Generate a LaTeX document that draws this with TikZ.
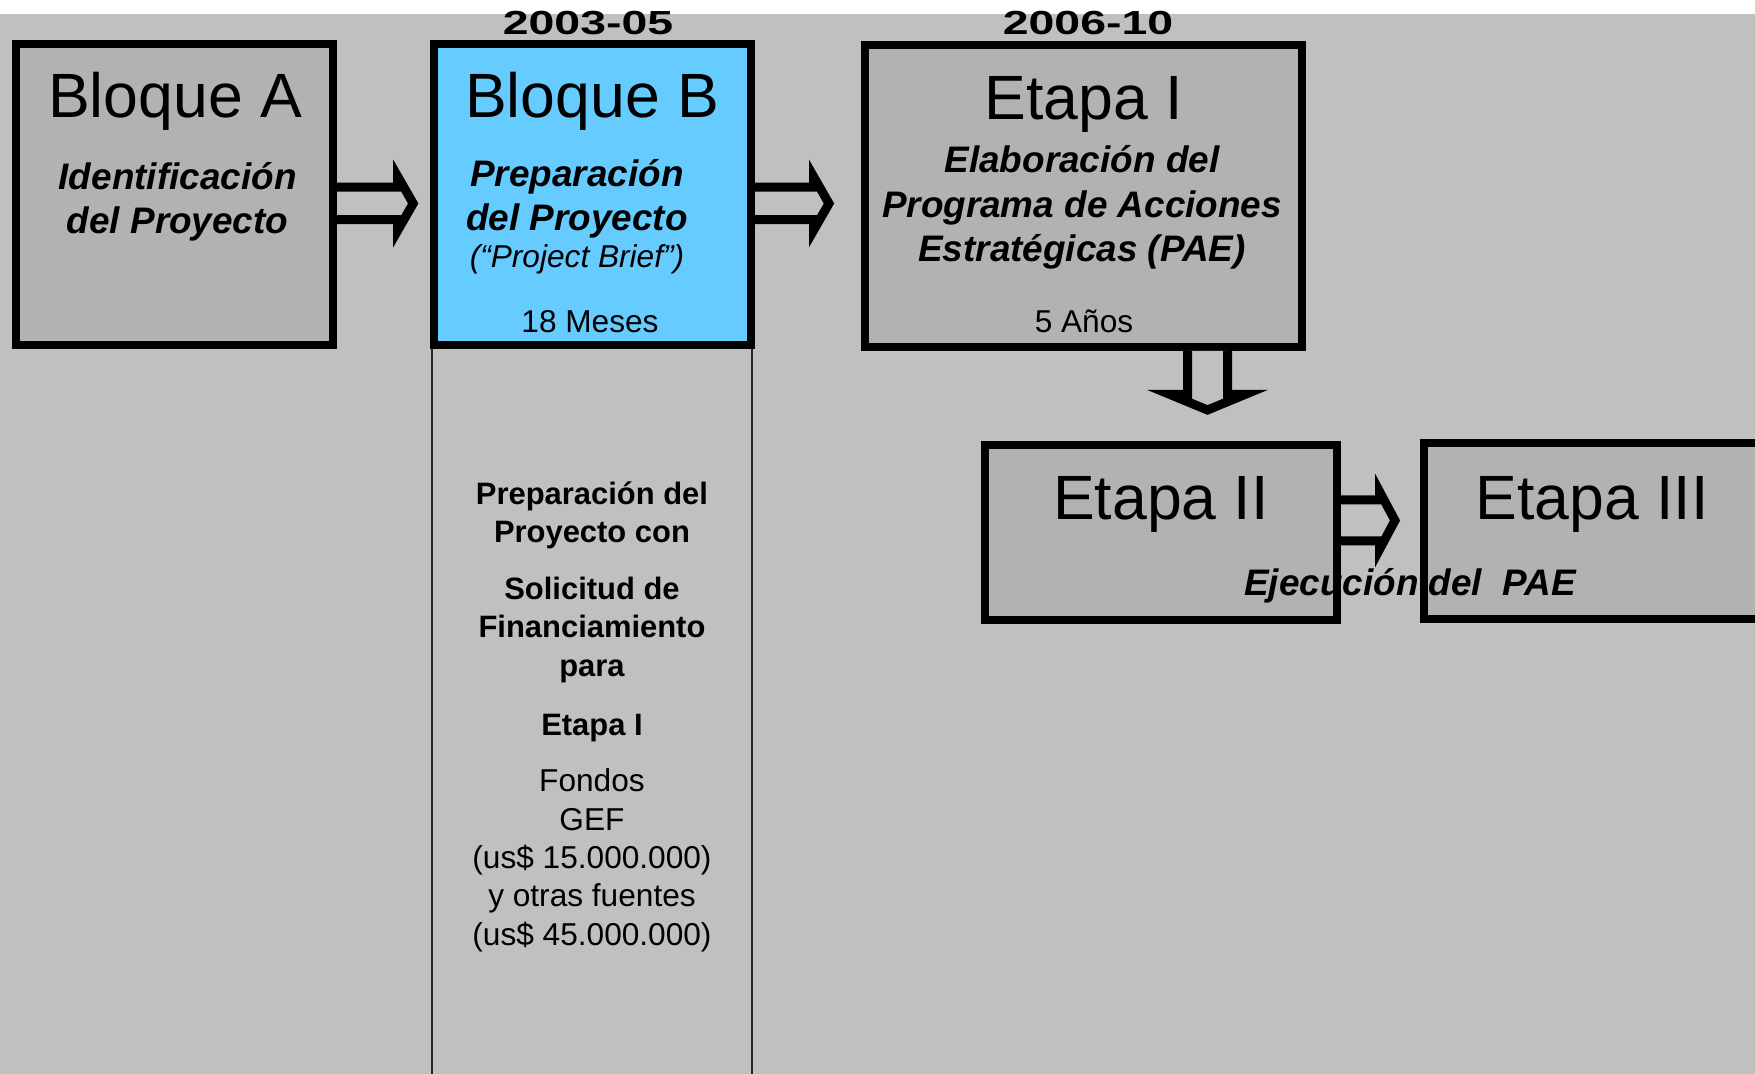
\documentclass[tikz,border=0pt]{standalone}
\usepackage{fontspec}
\usepackage{graphicx}
\setmainfont{Liberation Sans}
\usetikzlibrary{calc}
\definecolor{fondo}{HTML}{C0C0C0}
\definecolor{caja}{HTML}{B2B2B2}
\definecolor{celeste}{HTML}{66CCFF}
\tikzset{
  bloque/.style={draw=black, line width=2.28pt, fill=caja, rectangle, inner sep=0pt},
  grande/.style={font=\fontsize{17.8}{21}\selectfont, anchor=base, inner sep=0pt},
  sub/.style={font=\fontsize{10.5}{12.7}\selectfont\bfseries\itshape, align=center, anchor=base, inner sep=0pt},
  dur/.style={font=\fontsize{9}{11}\selectfont, anchor=base, inner sep=0pt},
  anio/.style={font=\fontsize{9.5}{11}\selectfont\bfseries, anchor=base, inner sep=0pt},
  lado/.style={font=\fontsize{9}{10.93}\selectfont, align=center, anchor=base, inner sep=0pt},
  ladob/.style={lado, font=\fontsize{8.8}{10.93}\selectfont\bfseries},
  guia/.style={draw=black!85, line width=0.4pt},
  flechah/.style 2 args={draw=black, line width=2.56pt, fill=fondo, line join=miter,
    to path={let \p1=(\tikztostart), \p2=(\tikztotarget) in
      ($(\p1)+(0,-#1)$) -- ($(\x2,\y1)+(-15.5,-#1)$) -- ($(\x2,\y1)+(-15.5,-#2)$) -- (\x2,\y1)
      -- ($(\x2,\y1)+(-15.5,#2)$) -- ($(\x2,\y1)+(-15.5,#1)$) -- ($(\p1)+(0,#1)$)}},
  flechav/.style 2 args={draw=black, line width=2.56pt, fill=fondo, line join=miter,
    to path={let \p1=(\tikztostart), \p2=(\tikztotarget) in
      ($(\p1)+(-#1,0)$) -- ($(\x1,\y2)+(-#1,-15.5)$) -- ($(\x1,\y2)+(-#2,-15.5)$) -- (\x1,\y2)
      -- ($(\x1,\y2)+(#2,-15.5)$) -- ($(\x1,\y2)+(#1,-15.5)$) -- ($(\p1)+(#1,0)$)}}
}
\begin{document}
\begin{tikzpicture}[x=0.1mm, y=-0.1mm]
  \useasboundingbox (0,0) rectangle (1755,1074);
  \clip (0,0) rectangle (1755,1074);
  \fill[fondo] (0,0) rectangle (1755,1074);
  \fill[white] (0,0) rectangle (1755,14);

  \node[bloque, minimum width=31.7mm, minimum height=30.1mm] (bA) at (174.5,194.5) {};
  \node[bloque, fill=celeste, minimum width=31.7mm, minimum height=30.1mm] (bB) at (592.7,194.5) {};
  \node[bloque, minimum width=43.7mm, minimum height=30.2mm] (etI) at (1083.5,196) {};
  \node[bloque, minimum width=35.2mm, minimum height=17.5mm] (etII) at (1161,532.5) {};
  \node[bloque, minimum width=33.8mm, minimum height=17.6mm] (etIII) at (1593,531.5) {};

  \draw[guia] (432,349) -- (432,1074);
  \draw[guia] (752,349) -- (752,1074);

  \draw[flechah={16.25}{27}] ($(bA.east)+(0,9)$) to ($(bB.west)+(-17,0)$);
  \draw[flechah={16.25}{27}] ($(bB.east)+(0,9)$) to ($(etI.west)+(-32,0)$);
  \draw[flechav={20}{37.5}] ($(etI.south)+(124,0)$) to ($(etII.north)+(0,-31)$);
  \draw[flechah={20.5}{29}] ($(etII.east)+(0,-12)$) to ($(etIII.west)+(-25,0)$);

  \node[anio] (y1) at (588,35) {\scalebox{1.39}[1]{2003-05}};
  \node[anio] (y2) at (1088,35) {\scalebox{1.39}[1]{2006-10}};

  \node[grande] (tA) at (175,118) {Bloque A};
  \node[sub] (sA) at (177.6,234) {Identificación\\del Proyecto};
  \node[grande] (tB) at (592,118) {Bloque B};
  \node[sub] (sB) at (577,231) {Preparación\\del Proyecto};
  \node[dur, font=\fontsize{9}{11}\selectfont\itshape] (pb) at (577,268) {(“Project Brief”)};
  \node[dur] (mB) at (590,333) {18 Meses};
  \node[grande] (tI) at (1084,120) {Etapa I};
  \node[sub] (sI) at (1082,262) {Elaboración del\\Programa de Acciones\\Estratégicas (PAE)};
  \node[dur] (mI) at (1084,333) {5 Años};
  \node[grande] (tII) at (1161,520) {Etapa II};
  \node[grande] (tIII) at (1592,520) {Etapa III};
  \node[sub] (ej) at (1410,596) {Ejecución del~~PAE};

  \node[ladob] (p1) at (592,542.6) {Preparación del\\Proyecto con};
  \node[ladob] (p2) at (592,676.4) {Solicitud de\\Financiamiento\\para};
  \node[ladob] (p3) at (592,735.7) {Etapa I};
  \node[lado] (p4) at (592,945.4) {Fondos\\GEF\\(us\$ 15.000.000)\\y otras fuentes\\(us\$ 45.000.000)};
\end{tikzpicture}
\end{document}
